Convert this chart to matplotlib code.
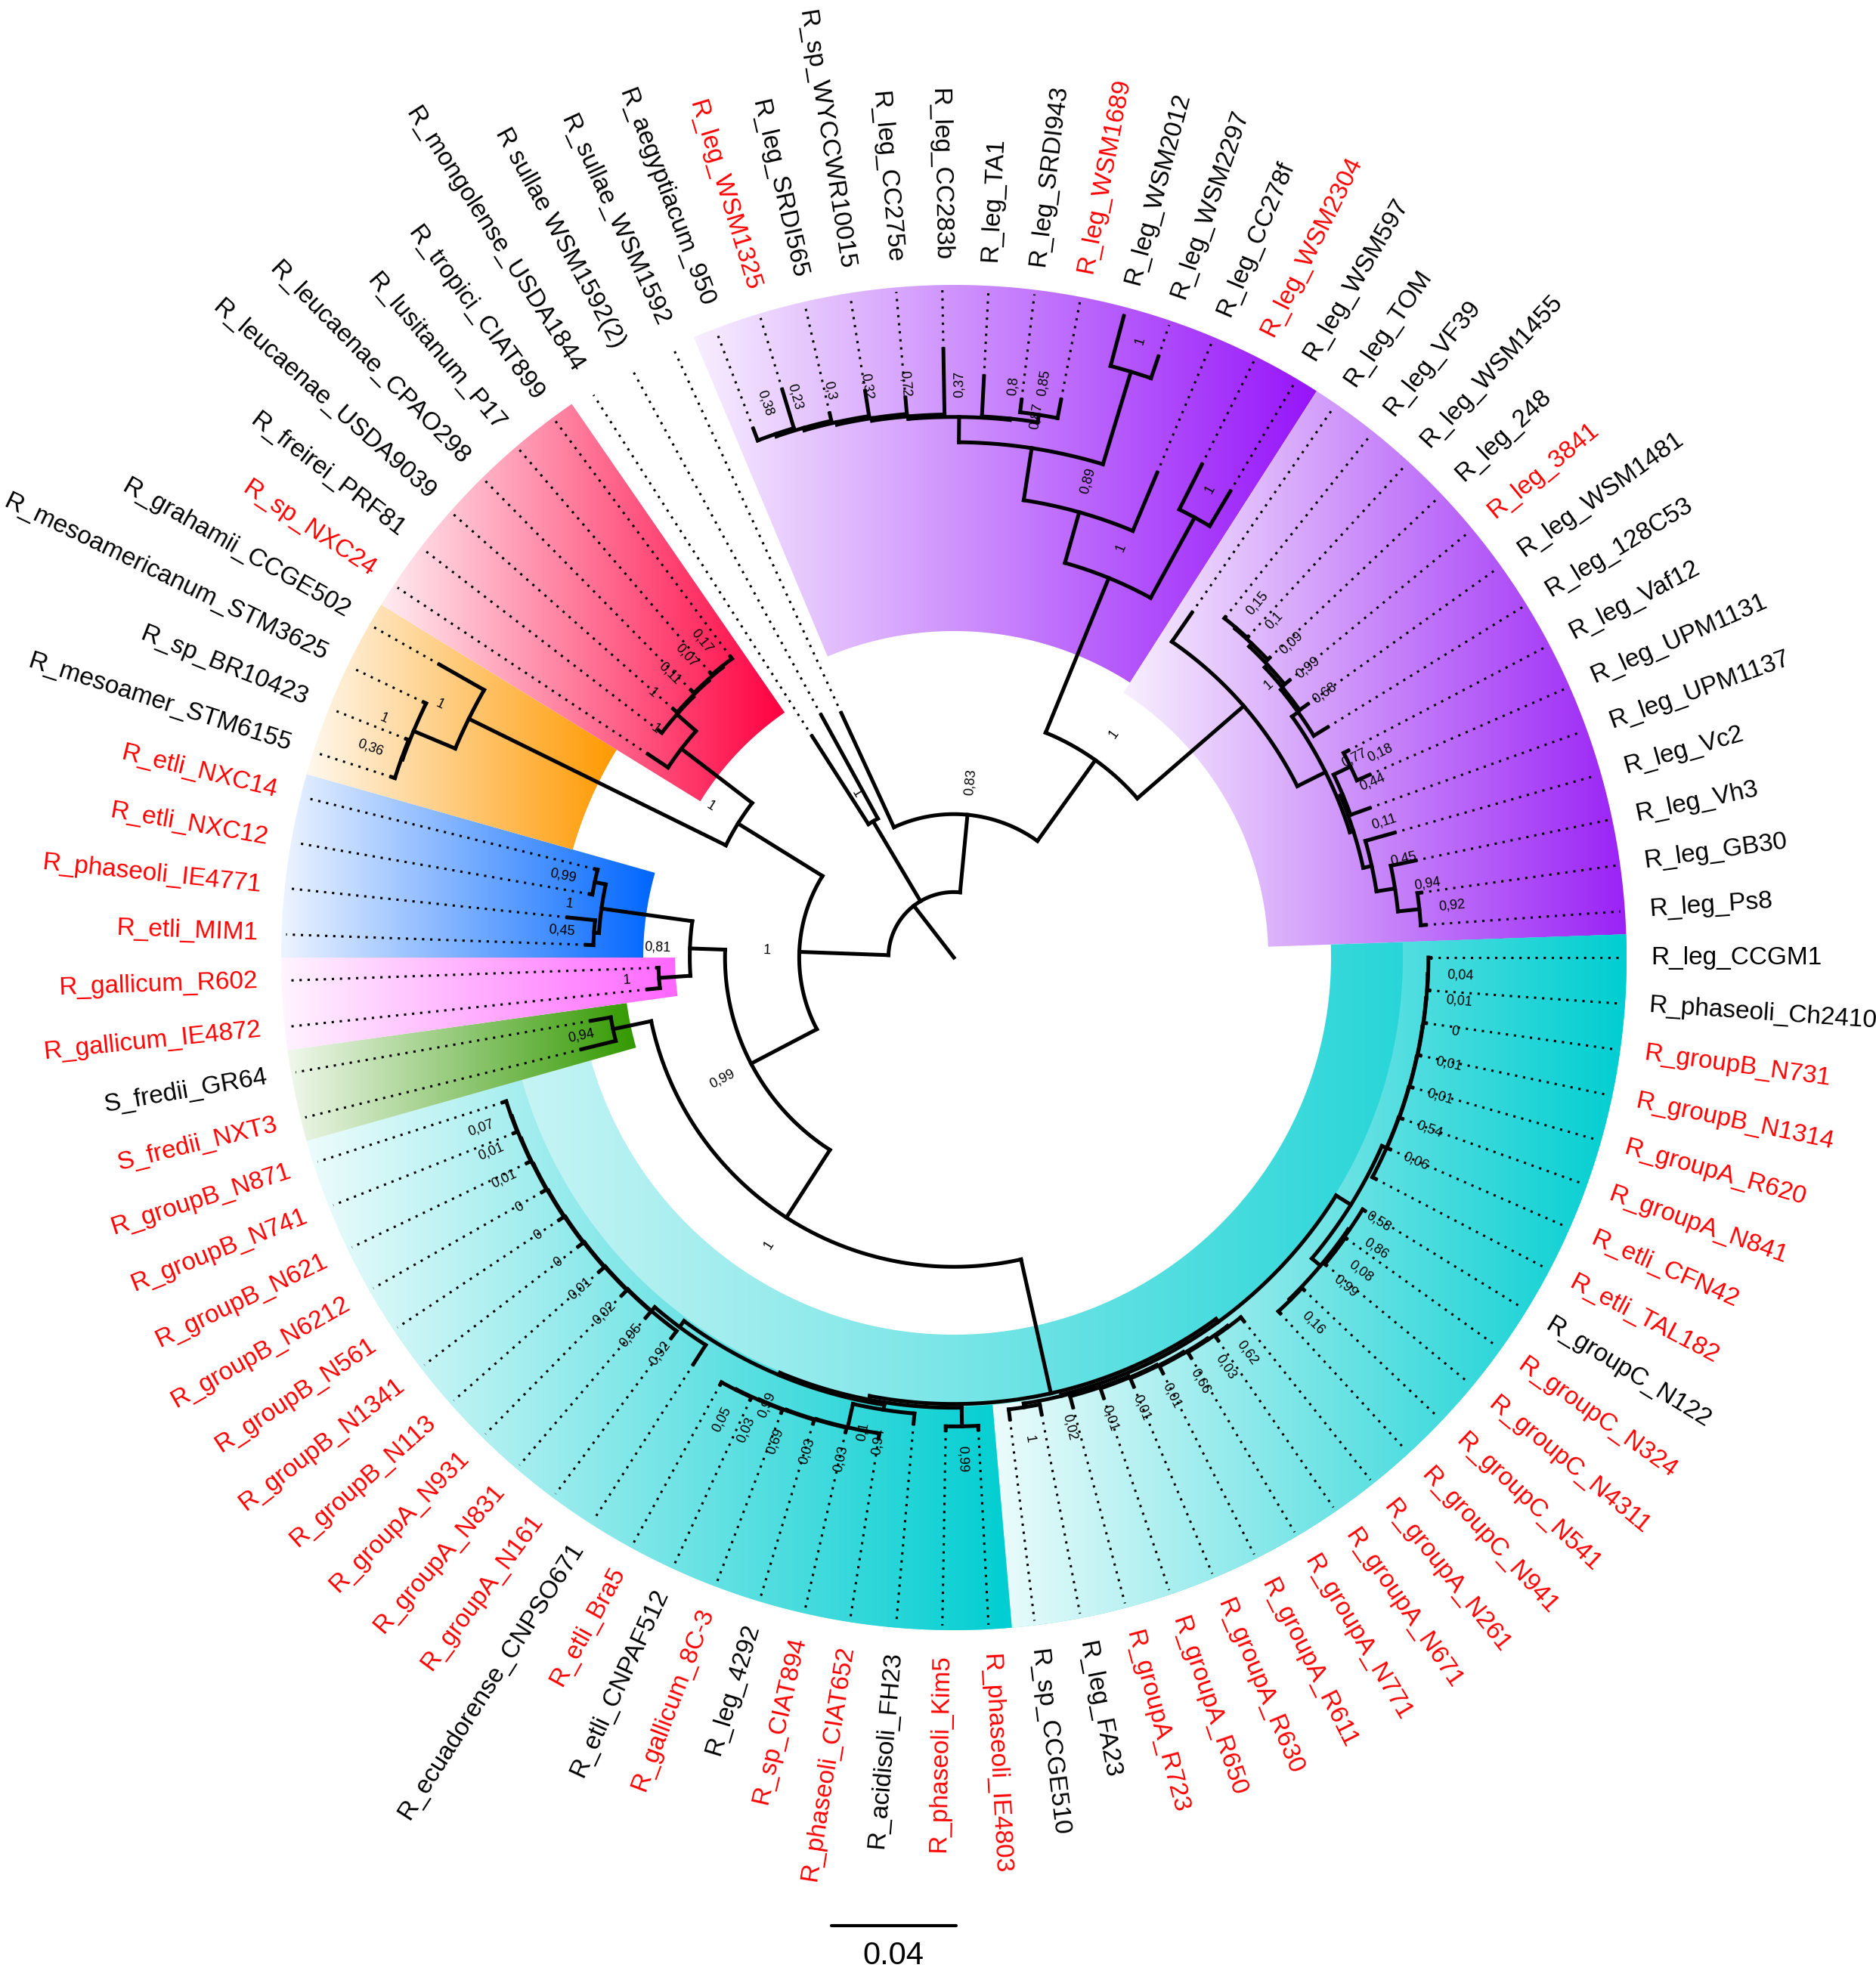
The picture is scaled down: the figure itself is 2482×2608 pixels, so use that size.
import numpy as np
import matplotlib
matplotlib.use("Agg")
import matplotlib.pyplot as plt
from matplotlib.patches import Polygon
from matplotlib.collections import LineCollection
from matplotlib.colors import to_rgb

plt.rcParams['font.family'] = ['Liberation Sans', 'DejaVu Sans']

# tip order, clockwise starting at the 3 o'clock position
LEAVES = [
    "R_leg_CCGM1", "R_phaseoli_Ch2410", "R_groupB_N731", "R_groupB_N1314", "R_groupA_R620",
    "R_groupA_N841", "R_etli_CFN42", "R_etli_TAL182", "R_groupC_N122", "R_groupC_N324",
    "R_groupC_N4311", "R_groupC_N541", "R_groupC_N941", "R_groupA_N261", "R_groupA_N671",
    "R_groupA_N771", "R_groupA_R611", "R_groupA_R630", "R_groupA_R650", "R_groupA_R723",
    "R_leg_FA23", "R_sp_CCGE510",
    "R_phaseoli_IE4803", "R_phaseoli_Kim5", "R_acidisoli_FH23", "R_phaseoli_CIAT652",
    "R_sp_CIAT894", "R_leg_4292", "R_gallicum_8C-3", "R_etli_CNPAF512", "R_etli_Bra5",
    "R_ecuadorense_CNPSO671", "R_groupA_N161", "R_groupA_N831", "R_groupA_N931",
    "R_groupB_N113", "R_groupB_N1341", "R_groupB_N561", "R_groupB_N6212", "R_groupB_N621",
    "R_groupB_N741", "R_groupB_N871",
    "S_fredii_NXT3", "S_fredii_GR64",
    "R_gallicum_IE4872", "R_gallicum_R602",
    "R_etli_MIM1", "R_phaseoli_IE4771", "R_etli_NXC12", "R_etli_NXC14",
    "R_mesoamer_STM6155", "R_sp_BR10423", "R_mesoamericanum_STM3625", "R_grahamii_CCGE502",
    "R_sp_NXC24", "R_freirei_PRF81", "R_leucaenae_USDA9039", "R_leucaenae_CPAO298",
    "R_lusitanum_P17", "R_tropici_CIAT899",
    "R_mongolense_USDA1844", "R sullae WSM1592(2)", "R_sullae_WSM1592",
    "R_aegyptiacum_950", "R_leg_WSM1325", "R_leg_SRDI565", "R_sp_WYCCWR10015", "R_leg_CC275e",
    "R_leg_CC283b", "R_leg_TA1", "R_leg_SRDI943", "R_leg_WSM1689", "R_leg_WSM2012",
    "R_leg_WSM2297", "R_leg_CC278f", "R_leg_WSM2304", "R_leg_WSM597",
    "R_leg_TOM", "R_leg_VF39", "R_leg_WSM1455", "R_leg_248", "R_leg_3841", "R_leg_WSM1481",
    "R_leg_128C53", "R_leg_Vaf12", "R_leg_UPM1131", "R_leg_UPM1137", "R_leg_Vc2", "R_leg_Vh3",
    "R_leg_GB30", "R_leg_Ps8",
]

RED_LABELS = [
    "R_leg_WSM1325", "R_leg_WSM1689", "R_leg_WSM2304", "R_leg_3841",
    "R_groupB_N731", "R_groupB_N1314", "R_groupA_R620", "R_groupA_N841", "R_etli_CFN42",
    "R_etli_TAL182", "R_groupC_N324", "R_groupC_N4311", "R_groupC_N541", "R_groupC_N941",
    "R_groupA_N261", "R_groupA_N671", "R_groupA_N771", "R_groupA_R611", "R_groupA_R630",
    "R_groupA_R650", "R_groupA_R723", "R_phaseoli_IE4803", "R_phaseoli_Kim5",
    "R_phaseoli_CIAT652", "R_sp_CIAT894", "R_gallicum_8C-3", "R_etli_Bra5", "R_groupA_N161",
    "R_groupA_N831", "R_groupA_N931", "R_groupB_N113", "R_groupB_N1341", "R_groupB_N561",
    "R_groupB_N6212", "R_groupB_N621", "R_groupB_N741", "R_groupB_N871", "S_fredii_NXT3",
    "R_gallicum_IE4872", "R_gallicum_R602", "R_etli_MIM1", "R_phaseoli_IE4771",
    "R_etli_NXC12", "R_etli_NXC14", "R_sp_NXC24",
]

# clades in newick (support values, branch lengths in substitutions/site)
RED_CLADE = ("(((((R_tropici_CIAT899:0.0008,R_lusitanum_P17:0.0008)0.17:0.0004,"
             "R_leucaenae_CPAO298:0.0012)0.07:0.0004,R_leucaenae_USDA9039:0.0016)0.11:0.0004,"
             "R_freirei_PRF81:0.0012)1:0.0081,R_sp_NXC24:0.0077)1:0.0286")
ORANGE_CLADE = ("(R_grahamii_CCGE502:0.0165,(R_mesoamericanum_STM3625:0.0008,"
                "(R_sp_BR10423:0.0008,R_mesoamer_STM6155:0.0012)0.36:0.0004)1:0.0145)1:0.0919")
BLUE_PINK = ("(((R_etli_NXC14:0.0008,R_etli_NXC12:0.0008)0.99:0.0036,"
             "(R_phaseoli_IE4771:0.0089,R_etli_MIM1:0.0024)0.45:0.0016)1:0.0294,"
             "(R_gallicum_R602:0.0004,R_gallicum_IE4872:0.0040)1:0.0101)0.81:0.0113")
GREEN_CLADE = "(S_fredii_GR64:0.0065,S_fredii_NXT3:0.0113)0.94:0.0125"
TEAL_B = ("(((((((((R_groupB_N871:0.0012,R_groupB_N741:0.0012)0.07:0.0002,R_groupB_N621:0.0014)0.01:0.0002,"
          "R_groupB_N6212:0.0016)0.01:0.0002,R_groupB_N561:0.0018)0:0.0002,R_groupB_N1341:0.0020)0:0.0002,"
          "R_groupB_N113:0.0022)0:0.0002,R_groupA_N931:0.0024)0.01:0.0002,R_groupA_N831:0.0026)0.02:0.0002,"
          "R_groupA_N161:0.0028)0.95:0.0016")
TEAL_SUB2 = ("((R_phaseoli_IE4803:0.0012,R_phaseoli_Kim5:0.0012)0.99:0.0060,"
             "((R_acidisoli_FH23:0.0032,(((((R_etli_Bra5:0.0008,R_etli_CNPAF512:0.0008)0.05:0.0002,"
             "R_gallicum_8C-3:0.0010)0.03:0.0002,R_leg_4292:0.0012)0.69:0.0002,R_sp_CIAT894:0.0014)0.03:0.0002,"
             "R_phaseoli_CIAT652:0.0016)0.03:0.0077)0.94:0.0016,"
             "(R_ecuadorense_CNPSO671:0.0073," + TEAL_B + ")0.92:0.0024)0.99:0.0008)0.1:0.0012")
TEAL_TOP = ("(((((((R_leg_CCGM1:0.0006,R_phaseoli_Ch2410:0.0006)0.04:0.0001,R_groupB_N731:0.0007)0.01:0.0001,"
            "R_groupB_N1314:0.0008)0:0.0001,R_groupA_R620:0.0009)0.01:0.0001,R_groupA_N841:0.0010)0.01:0.0001,"
            "R_etli_CFN42:0.0011)0.54:0.0001,R_etli_TAL182:0.0012)0.06:0.0016")
TEAL_C = ("((R_groupC_N122:0.0008,(R_groupC_N324:0.0004,R_groupC_N4311:0.0004)0.08:0.0004)0.86:0.0004,"
          "(R_groupC_N541:0.0008,R_groupC_N941:0.0008)0.16:0.0004)0.99:0.0036")
TEAL_A = ("(((((((R_groupA_N261:0.0016,R_groupA_N671:0.0016)0.62:0.0004,R_groupA_N771:0.0020)0.03:0.0004,"
          "R_groupA_R611:0.0024)0.66:0.0004,R_groupA_R630:0.0028)0.01:0.0004,R_groupA_R650:0.0032)0.01:0.0004,"
          "R_groupA_R723:0.0036)0.01:0.0008,(R_leg_FA23:0.0032,R_sp_CCGE510:0.0032)1:0.0012)0.02:0.0004")
TEAL_SUB1 = "((" + TEAL_TOP + "," + TEAL_C + ")0.58:0.0056," + TEAL_A + "):0.0012"
LEG_TOP = ("(((((((((R_aegyptiacum_950:0.0040,R_leg_WSM1325:0.0129)0.38:0.0008,R_leg_SRDI565:0.0024)0.23:0.0008,"
           "R_sp_WYCCWR10015:0.0081)0.3:0.0008,R_leg_CC275e:0.0052)0.32:0.0008,R_leg_CC283b:0.0210)0.72:0.0008,"
           "(R_leg_TA1:0.0129,(R_leg_SRDI943:0.0040,R_leg_WSM1689:0.0060)0.85:0.0024)0.8:0.0004)0.37:0.0081,"
           "(R_leg_WSM2012:0.0165,R_leg_WSM2297:0.0073)1:0.0310)0.87:0.0169,R_leg_CC278f:0.0202)0.89:0.0169,"
           "(R_leg_WSM2304:0.0161,R_leg_WSM597:0.0129)1:0.0294)1:0.0536")
LEG_RIGHT = ("(R_leg_TOM:0.0113,((((((R_leg_VF39:0.0004,R_leg_WSM1455:0.0004)0.15:0.0004,R_leg_248:0.0008)0.1:0.0012,"
             "R_leg_3841:0.0020)0.09:0.0012,R_leg_WSM1481:0.0032)0.99:0.0008,R_leg_128C53:0.0052)0.68:0.0024,"
             "(((R_leg_Vaf12:0.0016,R_leg_UPM1131:0.0044)0.18:0.0060,R_leg_UPM1137:0.0065)0.44:0.0008,"
             "(R_leg_Vc2:0.0097,(R_leg_Vh3:0.0081,(R_leg_GB30:0.0012,R_leg_Ps8:0.0016)0.92:0.0069)0.94:0.0060)0.45:0.0028"
             ")0.11:0.0012)0.77:0.0101)1:0.0452")
SULLAE_PAIR = "(R_mongolense_USDA1844:0.0335,'R sullae WSM1592(2)':0.0379)1:0.0298"

TREE = ("((" + "(" + RED_CLADE + "," + ORANGE_CLADE + ")1:0.0319,"
        "(" + BLUE_PINK + ",(" + GREEN_CLADE + ",(" + TEAL_SUB2 + "," + TEAL_SUB1 + "):0.0440)1:0.0258)0.99:0.0238"
        ")1:0.0286,"
        + SULLAE_PAIR + ","
        "(R_sullae_WSM1592:0.0403,(" + LEG_TOP + "," + LEG_RIGHT + ")1:0.0319)0.83:0.0250"
        "):0.0210;")

# shaded clades: first tip, last tip, colour, inner radius (px)
SECTORS = [
    ("R_aegyptiacum_950", "R_leg_WSM597", "#9614FA", 432),
    ("R_leg_TOM", "R_leg_Ps8", "#9A22F6", 416),
    ("R_leg_CCGM1", "R_groupB_N871", "#00CED1", 499),
    ("R_leg_CCGM1", "R_sp_CCGE510", "#00CED1", 594),
    ("R_phaseoli_IE4803", "R_groupB_N871", "#00CED1", 594),
    ("S_fredii_NXT3", "S_fredii_GR64", "#339900", 437),
    ("R_gallicum_IE4872", "R_gallicum_R602", "#FF66FF", 369),
    ("R_etli_MIM1", "R_etli_NXC14", "#0066FF", 411),
    ("R_mesoamer_STM6155", "R_grahamii_CCGE502", "#FF9900", 524),
    ("R_sp_NXC24", "R_tropici_CIAT899", "#FF0040", 394),
]

SCALE_VALUE = 0.04


def parse_newick(s):
    pos = 0

    def node():
        nonlocal pos
        n = {'children': [], 'name': '', 'len': 0.0}
        if s[pos] == '(':
            pos += 1
            while True:
                n['children'].append(node())
                ch = s[pos]
                pos += 1
                if ch == ')':
                    break
        if s[pos] == "'":
            end = s.index("'", pos + 1)
            n['name'] = s[pos + 1:end]
            pos = end + 1
        else:
            start = pos
            while s[pos] not in ':,);':
                pos += 1
            n['name'] = s[start:pos]
        if s[pos] == ':':
            pos += 1
            start = pos
            while s[pos] not in ',);':
                pos += 1
            n['len'] = float(s[start:pos])
        return n

    root = node()
    assert s[pos] == ';', "newick not fully parsed"
    return root


tree = parse_newick(TREE)

STEP = 360.0 / len(LEAVES)
leaf_angle = {name: 360.0 - i * STEP for i, name in enumerate(LEAVES)}


def layout(node, depth):
    node['depth'] = depth + node['len']
    if node['children']:
        for c in node['children']:
            layout(c, node['depth'])
        node['angle'] = np.mean([c['angle'] for c in node['children']])
    else:
        node['angle'] = leaf_angle[node['name']]


layout(tree, 0.0)

CX, CY = 1262, 1267
PX = 4125          # pixels per substitution/site
R_OUT = 890
R_DOT = 884
R_LABEL = 922


def xy(r, ang):
    a = np.radians(ang)
    return (CX + r * np.cos(a), CY - r * np.sin(a))


def rot(ang):
    ang = ang % 360
    if 90 < ang < 270:
        return ang - 180, True
    return ang, False


fig = plt.figure(figsize=(24.82, 26.08), dpi=100)
ax = fig.add_axes([0, 0, 1, 1])

# coloured sectors with left-to-right gradient
for first, last, color, r_in in SECTORS:
    a0 = leaf_angle[first] + STEP / 2
    a1 = leaf_angle[last] - STEP / 2
    angs = np.linspace(a0, a1, 300)
    pts = np.array([xy(R_OUT, a) for a in angs] + [xy(r_in, a) for a in angs[::-1]])
    poly = Polygon(pts, closed=True, facecolor='none', edgecolor='none')
    ax.add_patch(poly)
    dark = np.array(to_rgb(color))
    light = dark * 0.07 + 0.93
    g = np.linspace(0, 1, 256)[:, None]
    img = (light * (1 - g) + dark * g)[None, :, :]
    im = ax.imshow(img, extent=(pts[:, 0].min(), pts[:, 0].max(), pts[:, 1].max(), pts[:, 1].min()),
                   aspect='auto', interpolation='bilinear', zorder=1)
    im.set_clip_path(poly)

segs = []
dots = []


def draw(node):
    r = node['depth'] * PX
    if node['children']:
        angs = [c['angle'] for c in node['children']]
        lo, hi = min(angs), max(angs)
        n = max(2, int((hi - lo) * 3) + 2)
        segs.append([xy(r, t) for t in np.linspace(lo, hi, n)])
        for c in node['children']:
            segs.append([xy(r, c['angle']), xy(c['depth'] * PX, c['angle'])])
            draw(c)
        if node['name']:
            rr, flip = rot(node['angle'])
            x, y = xy(r + 43, node['angle'])
            ax.text(x, y, node['name'].replace('.', ','), fontsize=13, rotation=rr,
                    ha='center', va='center', rotation_mode='anchor', zorder=5)
    else:
        if r < R_DOT:
            dots.append([xy(r, node['angle']), xy(R_DOT, node['angle'])])
        rr, flip = rot(node['angle'])
        x, y = xy(R_LABEL, node['angle'])
        col = '#FF0000' if node['name'] in RED_LABELS else 'black'
        ax.text(x, y, node['name'], fontsize=24, color=col, rotation=rr,
                ha='right' if flip else 'left', va='center', rotation_mode='anchor', zorder=5)


segs.append([xy(0, tree['angle']), xy(tree['depth'] * PX, tree['angle'])])
draw(tree)

ax.add_collection(LineCollection(dots, colors='black', linewidths=2.2,
                                 linestyles=[(0, (1, 2.5))], zorder=2))
ax.add_collection(LineCollection(segs, colors='black', linewidths=3.6,
                                 capstyle='projecting', joinstyle='miter', zorder=3))

# scale bar
bar_len = SCALE_VALUE * PX
ax.plot([1182 - bar_len / 2, 1182 + bar_len / 2], [2548, 2548], color='black', lw=3,
        solid_capstyle='round')
ax.text(1182, 2588, f"{SCALE_VALUE}", fontsize=30, ha='center', va='center')

ax.set_xlim(0, 2482)
ax.set_ylim(2608, 0)
ax.axis('off')
fig.savefig('out.png', dpi=100)
